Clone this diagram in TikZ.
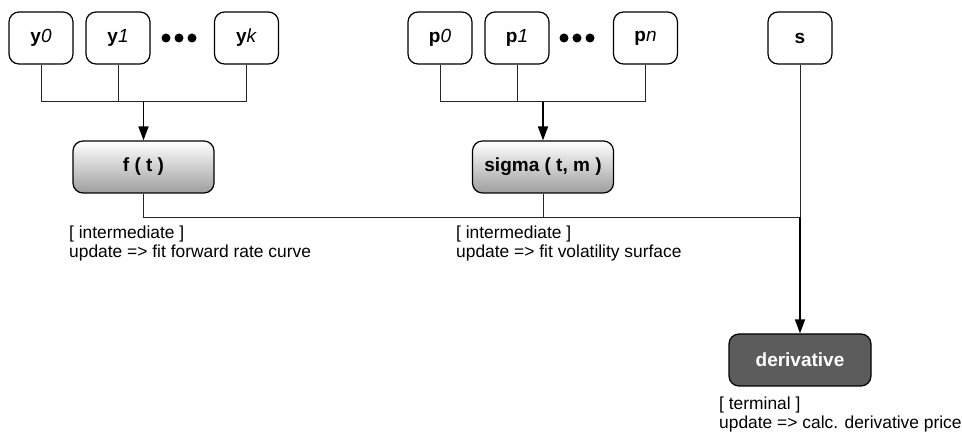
\documentclass[tikz,border=0pt]{standalone}
\usepackage{fontspec}
\setmainfont{Liberation Sans}
\usetikzlibrary{arrows.meta}
\definecolor{darkbox}{HTML}{5C5C5C}
\begin{document}
\begin{tikzpicture}[x=1pt,y=-1pt,
  inbox/.style={draw=black, line width=1.2pt, rounded corners=10pt, fill=white, minimum width=64pt, minimum height=52pt, inner sep=0pt, font=\fontsize{19}{22}\selectfont},
  midbox/.style={draw=black, line width=1.2pt, rounded corners=10pt, top color=white, bottom color=black!38, minimum width=141pt, minimum height=52pt, inner sep=0pt, font=\bfseries\fontsize{19}{22}\selectfont},
  termbox/.style={draw=black, line width=1.2pt, rounded corners=10pt, fill=darkbox, text=white, minimum width=142pt, minimum height=52pt, inner sep=0pt, font=\bfseries\fontsize{19}{22}\selectfont},
  wire/.style={line width=1pt, draw=black!85},
  feed/.style={line width=1.7pt, draw=black, -{Triangle[length=14pt,width=10pt]}},
  note/.style={anchor=north west, align=left, inner sep=0pt, font=\fontsize{17.4}{18.5}\selectfont},
  bullet/.style={circle, fill=black, inner sep=0pt, minimum size=9pt}
]
\useasboundingbox (0,0) rectangle (962,435);

% inputs
\node[inbox] (y0) at (41,38) {\textbf{y}\textit{0}};
\node[inbox] (y1) at (118,38) {\textbf{y}\textit{1}};
\node[bullet] (yd1) at (166,38) {};
\node[bullet] (yd2) at (179,38) {};
\node[bullet] (yd3) at (192,38) {};
\node[inbox] (yk) at (246.5,38) {\textbf{y}\textit{k}};

\node[inbox] (p0) at (440,38) {\textbf{p}\textit{0}};
\node[inbox] (p1) at (517,38) {\textbf{p}\textit{1}};
\node[bullet] (pd1) at (564,38) {};
\node[bullet] (pd2) at (577,38) {};
\node[bullet] (pd3) at (590,38) {};
\node[inbox] (pn) at (645.5,38) {\textbf{p}\textit{n}};

\node[inbox] (s) at (800,38) {\textbf{s}};

% intermediates
\node[midbox] (f) at (143.5,167) {f ( t )};
\node[midbox] (sig) at (543,167) {sigma ( t, m )};

% terminal
\node[termbox] (der) at (800,360) {derivative};

% junctions
\coordinate (yj) at (143.5,102);
\coordinate (pj) at (543,102);
\coordinate (bj) at (800,218);

% wires
\draw[wire] (y0.south) -- (y0.south |- yj) -- (yk.south |- yj) -- (yk.south);
\draw[wire] (y1.south) -- (y1.south |- yj);
\draw[feed] (yj) -- (f.north);

\draw[wire] (p0.south) -- (p0.south |- pj) -- (pn.south |- pj) -- (pn.south);
\draw[wire] (p1.south) -- (p1.south |- pj);
\draw[feed] (pj) -- (sig.north);

\draw[wire] (f.south) -- (f.south |- bj) -- (bj);
\draw[wire] (sig.south) -- (sig.south |- bj);
\draw[wire] (s.south) -- (bj);
\draw[feed] (bj) -- (der.north);

% notes
\node[note] (fn) at (69,226) {[ intermediate ]\\update => fit forward rate curve};
\node[note] (sn) at (456,226) {[ intermediate ]\\update => fit volatility surface};
\node[note] (dn) at (719,397) {[ terminal ]\\update => calc. derivative price};
\end{tikzpicture}
\end{document}
